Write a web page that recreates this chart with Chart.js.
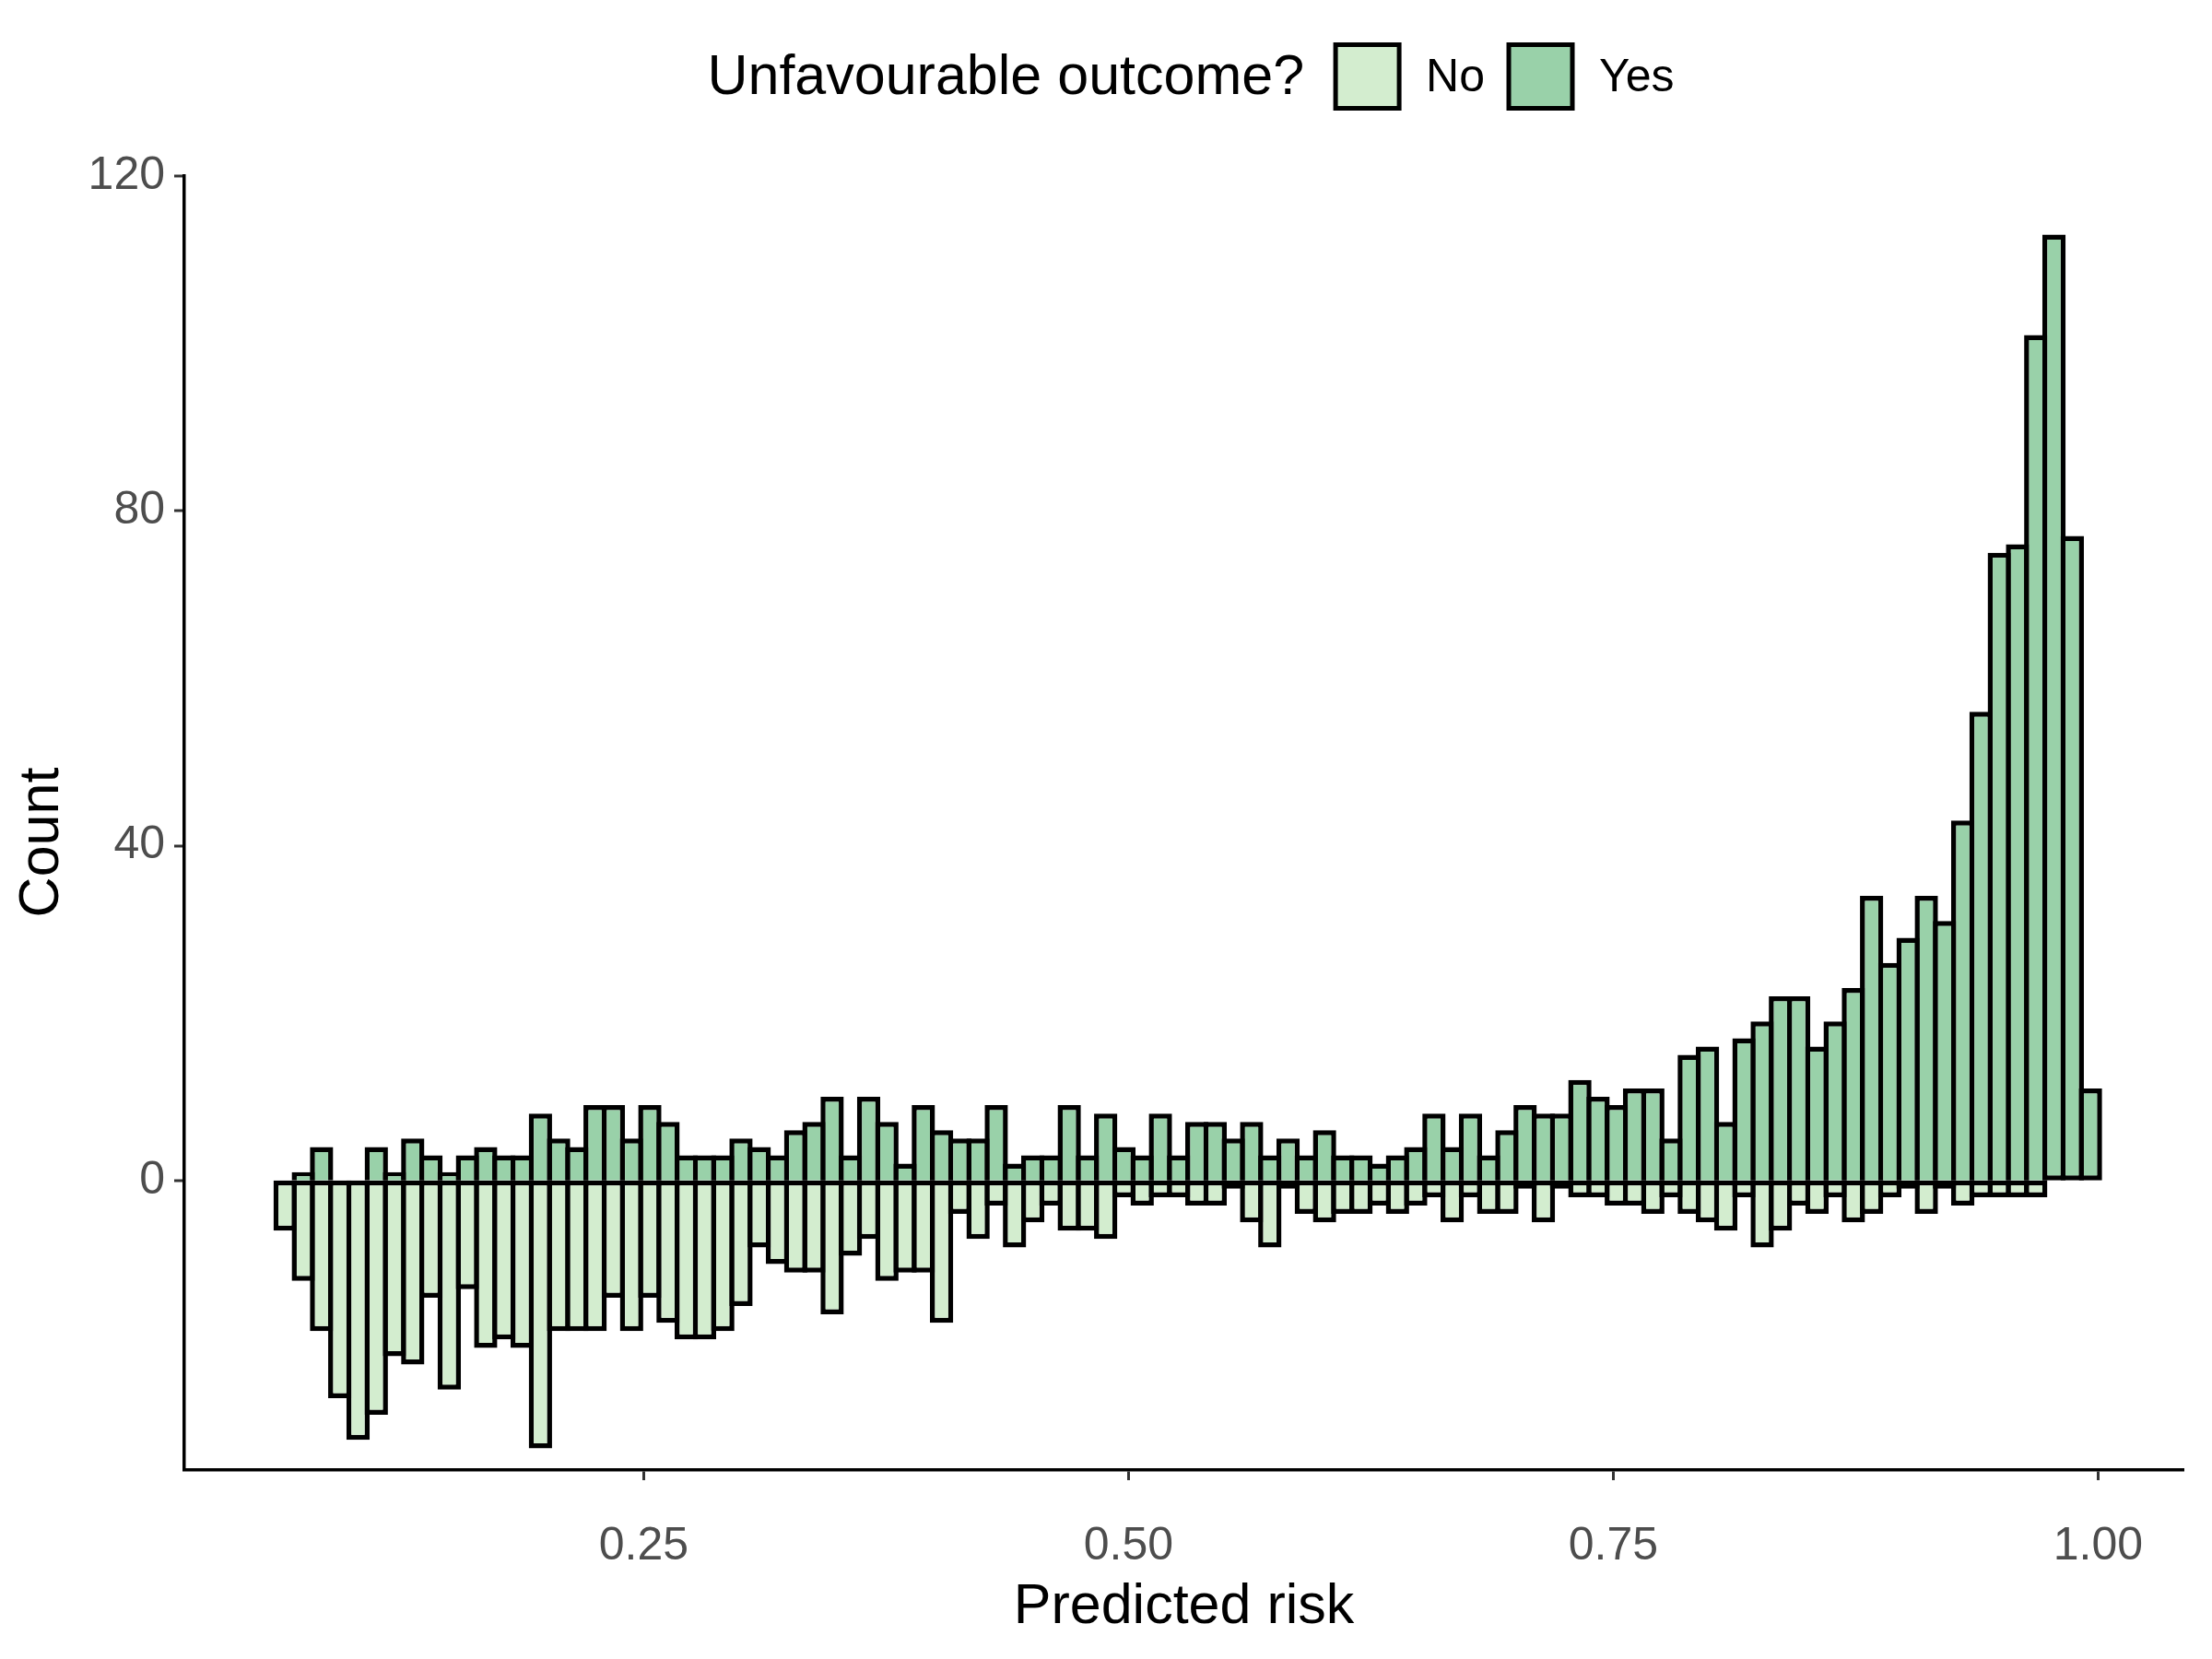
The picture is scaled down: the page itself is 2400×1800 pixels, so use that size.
<!DOCTYPE html>
<html>
<head>
<meta charset="utf-8">
<script src="https://cdn.jsdelivr.net/npm/chart.js@4.4.1/dist/chart.umd.min.js"></script>
<style>
    html, body { margin: 0; padding: 0; background: #ffffff; }
</style>
</head>
<body>
<canvas id="riskChart" width="2400" height="1800"></canvas>
<script>
// histogram bins (100 equal bins of predicted risk)
const firstBinCentre = 0.06506;
const binWidth = 0.009404;

const yesCounts = [
    0, 1, 4, 0, 0, 4, 1, 5, 3, 1,
    3, 4, 3, 3, 8, 5, 4, 9, 9, 5,
    9, 7, 3, 3, 3, 5, 4, 3, 6, 7,
    10, 3, 10, 7, 2, 9, 6, 5, 5, 9,
    2, 3, 3, 9, 3, 8, 4, 3, 8, 3,
    7, 7, 5, 7, 3, 5, 3, 6, 3, 3,
    2, 3, 4, 8, 4, 8, 3, 6, 9, 8,
    8, 12, 10, 9, 11, 11, 5, 15, 16, 7,
    17, 19, 22, 22, 16, 19, 23, 34, 26, 29,
    34, 31, 43, 56, 75, 76, 101, 113, 77, 11
];
const noCounts = [
    6, 12, 18, 26, 31, 28, 21, 22, 14, 25,
    13, 20, 19, 20, 32, 18, 18, 18, 14, 18,
    14, 17, 19, 19, 18, 15, 8, 10, 11, 11,
    16, 9, 7, 12, 11, 11, 17, 4, 7, 3,
    8, 5, 3, 6, 6, 7, 2, 3, 2, 2,
    3, 3, 1, 5, 8, 1, 4, 5, 4, 4,
    3, 4, 3, 2, 5, 2, 4, 4, 1, 5,
    1, 2, 2, 3, 3, 4, 2, 4, 5, 6,
    2, 8, 6, 3, 4, 2, 5, 4, 2, 1,
    4, 1, 3, 2, 2, 2, 2, 0, 0, 0
];

const xTicks = [0.25, 0.50, 0.75, 1.00];
const yTicks = [0, 40, 80, 120];
const legendTitle = 'Unfavourable outcome?';
const yTitle = 'Count';

const binCentres = yesCounts.map((_, i) => firstBinCentre + i * binWidth);

const FONT = '"Liberation Sans", Arial, Helvetica, sans-serif';
const BORDER = 5.5;

// ggplot-style legend on top (title then boxes) and the y title
const extraText = {
    id: 'extraText',
    afterDraw(chart) {
        const ctx = chart.ctx;
        const cy = 83, box = 69;
        ctx.save();
        ctx.textBaseline = 'middle';
        ctx.font = '61px ' + FONT;
        const titleW = ctx.measureText(legendTitle).width;
        ctx.font = '50px ' + FONT;
        const items = chart.data.datasets.map(ds => ({
            label: ds.label, fill: ds.backgroundColor, w: ctx.measureText(ds.label).width
        }));
        let total = titleW + 34;
        items.forEach((it, i) => { total += box + 29 + it.w + (i < items.length - 1 ? 26 : 0); });
        let x = 1292 - total / 2;

        ctx.fillStyle = '#000000';
        ctx.font = '61px ' + FONT;
        ctx.fillText(legendTitle, x, cy + 2);
        x += titleW + 34;
        ctx.font = '50px ' + FONT;
        items.forEach(it => {
            ctx.fillStyle = it.fill;
            ctx.fillRect(x, cy - box / 2, box, box);
            ctx.lineWidth = 5;
            ctx.strokeStyle = '#000000';
            ctx.strokeRect(x, cy - box / 2, box, box);
            x += box + 29;
            ctx.fillStyle = '#000000';
            ctx.fillText(it.label, x, cy + 2);
            x += it.w + 26;
        });

        // y axis title, a little below the panel centre as in the original
        ctx.translate(46, 914);
        ctx.rotate(-Math.PI / 2);
        ctx.textAlign = 'center';
        ctx.font = '61px ' + FONT;
        ctx.fillStyle = '#000000';
        ctx.fillText(yTitle, 0, 0);
        ctx.restore();
    }
};

const barStyle = {
    borderColor: '#000000',
    borderWidth: BORDER,
    grouped: false,
    barPercentage: (19.79 + BORDER) / 19.79,
    categoryPercentage: 1
};

const ctx = document.getElementById('riskChart').getContext('2d');
const chart = new Chart(ctx, {
    type: 'bar',
    data: {
        datasets: [
            Object.assign({
                label: 'No',
                data: binCentres.map((x, i) => ({x: x, y: -noCounts[i]})),
                backgroundColor: '#D3EDCF',
                borderSkipped: false
            }, barStyle),
            Object.assign({
                label: 'Yes',
                data: binCentres.map((x, i) => ({x: x, y: yesCounts[i]})),
                backgroundColor: '#99D1A9',
                // the "No" bar below already draws the zero line, so skip the base unless it is empty
                borderSkipped: c => (noCounts[c.dataIndex] > 0 ? 'start' : false)
            }, barStyle)
        ]
    },
    options: {
        responsive: false,
        animation: false,
        devicePixelRatio: 1,
        layout: {padding: {left: 0, right: 31, top: 191, bottom: 0}},
        plugins: {
            legend: {display: false},
            tooltip: {enabled: false}
        },
        scales: {
            x: {
                type: 'linear',
                offset: false,
                min: 0.0131,
                max: 1.0440,
                afterBuildTicks: axis => { axis.ticks = xTicks.map(v => ({value: v})); },
                afterFit: axis => { axis.height = 205; },
                ticks: {
                    color: '#4D4D4D',
                    font: {family: FONT, size: 50},
                    padding: 42,
                    maxRotation: 0,
                    callback: v => Number(v).toFixed(2)
                },
                grid: {display: true, offset: false, drawOnChartArea: false, drawTicks: true, tickLength: 11, tickColor: '#333333', tickWidth: 3},
                border: {display: true, color: '#000000', width: 3.5},
                title: {display: true, text: 'Predicted risk', color: '#000000', font: {family: FONT, size: 61, lineHeight: 1.2}, padding: {top: 0, bottom: 19}}
            },
            y: {
                min: -34.6,
                max: 120,
                afterBuildTicks: axis => { axis.ticks = yTicks.map(v => ({value: v})); },
                afterFit: axis => { axis.width = 200; },
                ticks: {
                    color: '#4D4D4D',
                    font: {family: FONT, size: 50},
                    padding: 10
                },
                // lineWidth 0 so bars meet exactly at zero (no half-grid gap)
                grid: {display: true, offset: false, drawOnChartArea: false, lineWidth: 0, drawTicks: true, tickLength: 11, tickColor: '#333333', tickWidth: 3},
                border: {display: true, color: '#000000', width: 3.5},
                title: {display: false}
            }
        }
    },
    plugins: [extraText]
});
</script>
</body>
</html>
